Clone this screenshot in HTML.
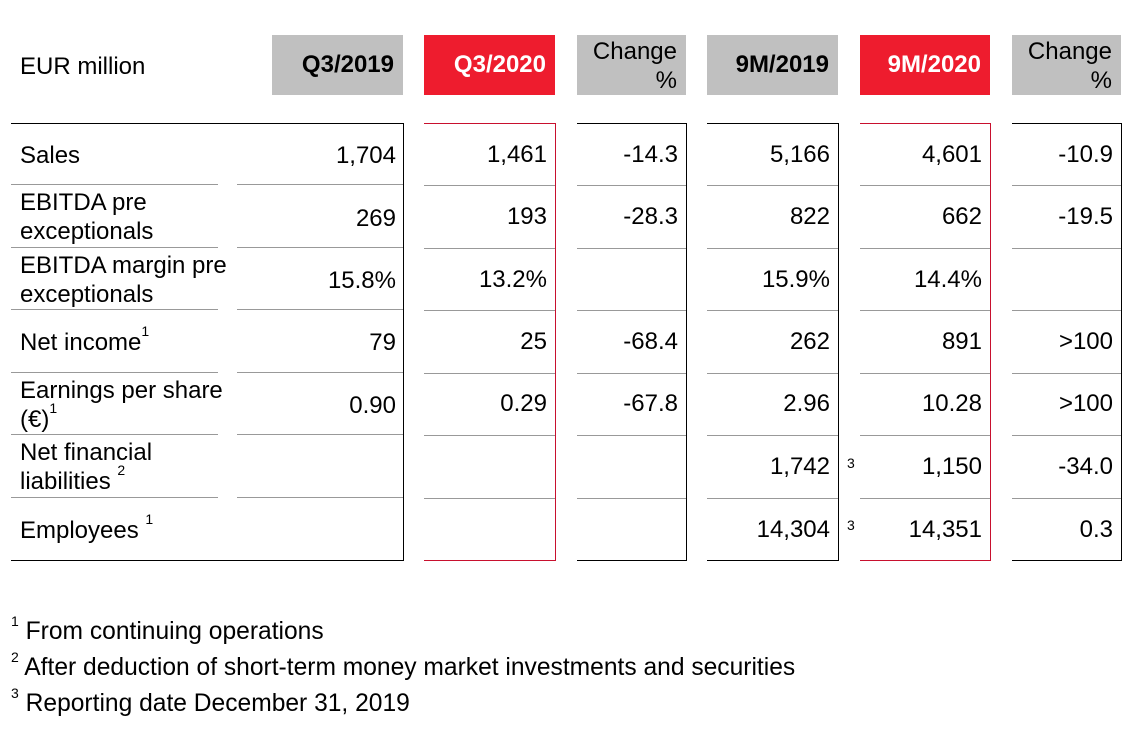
<!DOCTYPE html>
<html><head><meta charset="utf-8"><style>
body{margin:0;width:1140px;height:744px;background:#fff;font-family:"Liberation Sans",Arial,sans-serif;color:#000;position:relative;overflow:hidden}
.a{position:absolute}
.h{position:absolute;top:35px;height:60px;display:flex;align-items:center;justify-content:flex-end;font-weight:bold;font-size:24px;box-sizing:border-box;padding-right:9px}
.g{background:#c0c0c0}.r{background:#ee1c2e;color:#fff}
.ch{position:absolute;top:35px;height:60px;background:#c0c0c0;font-size:24px;text-align:right;box-sizing:border-box;padding-right:9px;line-height:29px;padding-top:2px}
.col{position:absolute;top:123px;height:438px;box-sizing:border-box;border-top:1px solid #000;border-right:1px solid #000;border-bottom:1px solid #000}
.col.red{border-color:#c8102e}
.row{height:62.43px;box-sizing:border-box;border-bottom:1px solid #999;display:flex;align-items:center;justify-content:flex-end;padding-right:8px;font-size:24px;position:relative}
.row:last-child{border-bottom:none}
.lab{position:absolute;left:20px;width:270px;font-size:24px;line-height:29px;display:flex;align-items:center;height:62px}
sup{font-size:14px;vertical-align:top;position:relative;top:-4px;line-height:14px}
.s3{position:absolute;left:847px;font-size:14px}
.fn{position:absolute;left:11px;font-size:24.6px}
.line{position:absolute;height:1px;background:#999}
</style></head><body>
<div class="a" style="left:20px;top:53px;font-size:24px">EUR million</div>
<div class="h g" style="left:272px;width:131px">Q3/2019</div>
<div class="h r" style="left:424px;width:131px">Q3/2020</div>
<div class="ch" style="left:577px;width:109px">Change<br>%</div>
<div class="h g" style="left:707px;width:131px">9M/2019</div>
<div class="h r" style="left:860px;width:130px">9M/2020</div>
<div class="ch" style="left:1012px;width:109px">Change<br>%</div>

<div class="col" style="left:11px;width:393px"></div>
<div class="line" style="left:11px;width:207px;top:184px"></div><div class="line" style="left:237px;width:166px;top:184px"></div>
<div class="line" style="left:11px;width:207px;top:247px"></div><div class="line" style="left:237px;width:166px;top:247px"></div>
<div class="line" style="left:11px;width:207px;top:309px"></div><div class="line" style="left:237px;width:166px;top:309px"></div>
<div class="line" style="left:11px;width:207px;top:372px"></div><div class="line" style="left:237px;width:166px;top:372px"></div>
<div class="line" style="left:11px;width:207px;top:434px"></div><div class="line" style="left:237px;width:166px;top:434px"></div>
<div class="line" style="left:11px;width:207px;top:497px"></div><div class="line" style="left:237px;width:166px;top:497px"></div>

<div class="lab" style="top:124px"><span>Sales</span></div>
<div class="lab" style="top:186px"><span>EBITDA pre<br>exceptionals</span></div>
<div class="lab" style="top:249px"><span>EBITDA margin pre<br>exceptionals</span></div>
<div class="lab" style="top:311px"><span>Net income<sup>1</sup></span></div>
<div class="lab" style="top:374px"><span>Earnings per share<br>(€)<sup>1</sup></span></div>
<div class="lab" style="top:436px"><span>Net financial<br>liabilities <sup>2</sup></span></div>
<div class="lab" style="top:499px"><span>Employees <sup>1</sup></span></div>

<div class="col" style="left:237px;width:167px;border:none;top:125px">
<div class="row" style="border:none">1,704</div><div class="row" style="border:none">269</div><div class="row" style="border:none">15.8%</div><div class="row" style="border:none">79</div><div class="row" style="border:none">0.90</div><div class="row" style="border:none"></div><div class="row" style="border:none"></div>
</div>
<div class="col red" style="left:424px;width:132px">
<div class="row">1,461</div><div class="row">193</div><div class="row">13.2%</div><div class="row">25</div><div class="row">0.29</div><div class="row"></div><div class="row"></div>
</div>
<div class="col" style="left:577px;width:110px">
<div class="row">-14.3</div><div class="row">-28.3</div><div class="row"></div><div class="row">-68.4</div><div class="row">-67.8</div><div class="row"></div><div class="row"></div>
</div>
<div class="col" style="left:707px;width:132px">
<div class="row">5,166</div><div class="row">822</div><div class="row">15.9%</div><div class="row">262</div><div class="row">2.96</div><div class="row">1,742</div><div class="row">14,304</div>
</div>
<div class="col red" style="left:860px;width:131px">
<div class="row">4,601</div><div class="row">662</div><div class="row">14.4%</div><div class="row">891</div><div class="row">10.28</div><div class="row">1,150</div><div class="row">14,351</div>
</div>
<div class="col" style="left:1012px;width:110px">
<div class="row">-10.9</div><div class="row">-19.5</div><div class="row"></div><div class="row">&gt;100</div><div class="row">&gt;100</div><div class="row">-34.0</div><div class="row">0.3</div>
</div>
<div class="s3" style="top:455px">3</div>
<div class="s3" style="top:517px">3</div>

<div class="fn" style="top:618px"><sup>1</sup> From continuing operations</div>
<div class="fn" style="top:654px"><sup>2</sup> After deduction of short-term money market investments and securities</div>
<div class="fn" style="top:690px"><sup>3</sup> Reporting date December 31, 2019</div>
</body></html>
